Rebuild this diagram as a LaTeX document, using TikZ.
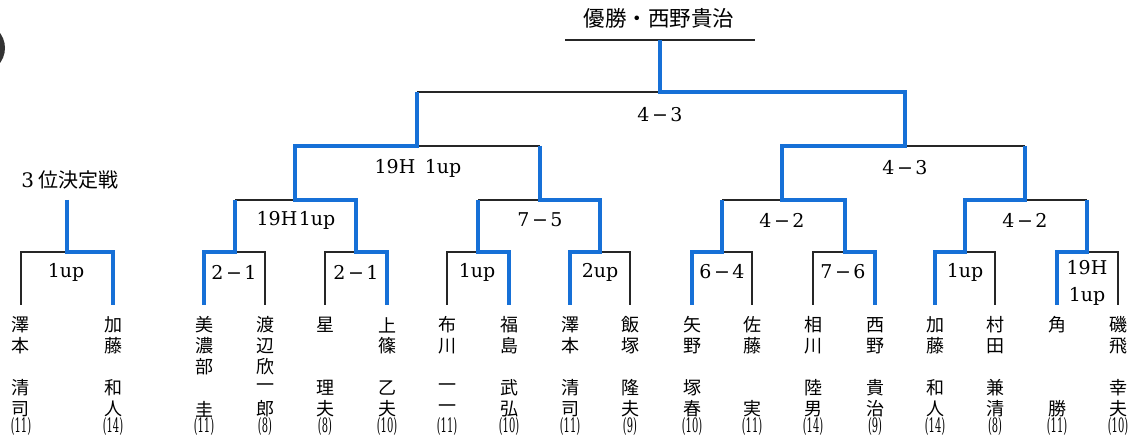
\documentclass[tikz,border=0pt]{standalone}
\usepackage{fontspec}
\newfontfamily\jp{Noto Sans CJK JP}
\newfontfamily\lat{DejaVu Serif}
\definecolor{bl}{RGB}{22,112,215}
\tikzset{
  bk/.style={draw=black!85, line width=1.4pt, line join=miter},
  bu/.style={draw=bl, line width=3.2pt, line join=miter},
  jn/.style={font=\jp\fontsize{20}{20}\selectfont, inner sep=0pt, anchor=center},
  pn/.style={font=\jp\fontsize{18}{18}\selectfont, inner sep=0pt, anchor=center},
  sc/.style={font=\lat\fontsize{19}{20}\selectfont, inner sep=0pt, anchor=center},
  nu/.style={font=\lat\fontsize{18}{18}\selectfont, inner sep=0pt, anchor=center},
}
\newcommand\pl[8]{%
  \node[pn] (#1a) at (#2,325) {#3};
  \node[pn] (#1b) at (#2,346) {#4};
  \node[pn] (#1c) at (#2,367) {#5};
  \node[pn] (#1d) at (#2,388) {#6};
  \node[pn] (#1e) at (#2,409) {#7};
  \node[nu] (#1n) at (#2,426.5) {\scalebox{0.55}[1.1]{(#8)}};
  \coordinate (#1t) at (#2,305);
}
\newcommand\mn{\hspace{2.5pt}−\hspace{2.5pt}}
\begin{document}
\begin{tikzpicture}[x=1pt,y=-1pt]
\useasboundingbox (0,0) rectangle (1131,438);
\fill[white] (0,0) rectangle (1131,438);
\fill[black!80] (-20,48) circle (25);

% title
\node[jn, font=\jp\fontsize{21.5}{21.5}\selectfont] (title) at (659,18) {優勝・西野貴治};
\coordinate (tl) at (565,40); \coordinate (tr) at (755,40); \coordinate (c0) at (660,40);
\draw[bk] (tl) -- (tr);

% junction coordinates
\coordinate (F) at (660,92); \coordinate (FL) at (417,92); \coordinate (FR) at (905,92);
\coordinate (S1) at (417,146); \coordinate (S1L) at (295,146); \coordinate (S1R) at (540,146);
\coordinate (S2) at (905,146); \coordinate (S2L) at (782,146); \coordinate (S2R) at (1025,146);
\coordinate (A) at (295,200); \coordinate (AL) at (235,200); \coordinate (AR) at (356,200);
\coordinate (B) at (540,200); \coordinate (BL) at (478,200); \coordinate (BR) at (600,200);
\coordinate (C) at (782,200); \coordinate (CL) at (722,200); \coordinate (CR) at (845,200);
\coordinate (D) at (1025,200); \coordinate (DL) at (965,200); \coordinate (DR) at (1087,200);
\coordinate (T0) at (67,200); \coordinate (T) at (67,252); \coordinate (TL) at (21,252); \coordinate (TR) at (113,252);
\coordinate (m1) at (235,252); \coordinate (m1L) at (204,252); \coordinate (m1R) at (265,252);
\coordinate (m2) at (356,252); \coordinate (m2L) at (325,252); \coordinate (m2R) at (387,252);
\coordinate (m3) at (478,252); \coordinate (m3L) at (447,252); \coordinate (m3R) at (509,252);
\coordinate (m4) at (600,252); \coordinate (m4L) at (570,252); \coordinate (m4R) at (630,252);
\coordinate (m5) at (722,252); \coordinate (m5L) at (692,252); \coordinate (m5R) at (752,252);
\coordinate (m6) at (845,252); \coordinate (m6L) at (813,252); \coordinate (m6R) at (875,252);
\coordinate (m7) at (965,252); \coordinate (m7L) at (935,252); \coordinate (m7R) at (995,252);
\coordinate (m8) at (1087,252); \coordinate (m8L) at (1057,252); \coordinate (m8R) at (1118,252);

% players
\pl{p01}{21}{澤}{本}{}{清}{司}{11}
\pl{p02}{113}{加}{藤}{}{和}{人}{14}
\pl{p03}{204}{美}{濃}{部}{}{圭}{11}
\pl{p04}{265}{渡}{辺}{欣}{一}{郎}{8}
\pl{p05}{325}{星}{}{}{理}{夫}{8}
\pl{p06}{387}{上}{篠}{}{乙}{夫}{10}
\pl{p07}{447}{布}{川}{}{一}{一}{11}
\pl{p08}{509}{福}{島}{}{武}{弘}{10}
\pl{p09}{570}{澤}{本}{}{清}{司}{11}
\pl{p10}{630}{飯}{塚}{}{隆}{夫}{9}
\pl{p11}{692}{矢}{野}{}{塚}{春}{10}
\pl{p12}{752}{佐}{藤}{}{}{実}{11}
\pl{p13}{813}{相}{川}{}{陸}{男}{14}
\pl{p14}{875}{西}{野}{}{貴}{治}{9}
\pl{p15}{935}{加}{藤}{}{和}{人}{14}
\pl{p16}{995}{村}{田}{}{兼}{清}{8}
\pl{p17}{1057}{角}{}{}{}{勝}{11}
\pl{p18}{1118}{磯}{飛}{}{幸}{夫}{10}

% black lines
\draw[bk] (FL) -- (F);
\draw[bk] (S1) -- (S1R);
\draw[bk] (S2) -- (S2R);
\draw[bk] (A) -- (AL);
\draw[bk] (B) -- (BL);
\draw[bk] (C) -- (CL);
\draw[bk] (D) -- (DR);
\draw[bk] (T) -- (TL) -- (p01t);
\draw[bk] (m1) -- (m1R) -- (p04t);
\draw[bk] (m2) -- (m2L) -- (p05t);
\draw[bk] (m3) -- (m3L) -- (p07t);
\draw[bk] (m4) -- (m4R) -- (p10t);
\draw[bk] (m5) -- (m5R) -- (p12t);
\draw[bk] (m6) -- (m6L) -- (p13t);
\draw[bk] (m7) -- (m7R) -- (p16t);
\draw[bk] (m8) -- (m8R) -- (p18t);

% blue (winner) lines
\draw[bu] (c0) -- (F) -- (FR) -- (S2) -- (S2L) -- (C) -- (CR) -- (m6) -- (m6R) -- (p14t);
\draw[bu] (FL) -- (S1) -- (S1L) -- (A) -- (AR) -- (m2) -- (m2R) -- (p06t);
\draw[bu] (S1R) -- (B) -- (BR) -- (m4) -- (m4L) -- (p09t);
\draw[bu] (BL) -- (m3) -- (m3R) -- (p08t);
\draw[bu] (AL) -- (m1) -- (m1L) -- (p03t);
\draw[bu] (CL) -- (m5) -- (m5L) -- (p11t);
\draw[bu] (S2R) -- (D) -- (DL) -- (m7) -- (m7L) -- (p15t);
\draw[bu] (DR) -- (m8) -- (m8L) -- (p17t);
\draw[bu] (T0) -- (T) -- (TR) -- (p02t);

% score labels
\node[sc] (sF) at (660,115) {4\mn3};
\node[sc] (sS1) at (418,168) {19H\enspace 1up};
\node[sc] (sS2) at (905,168) {4\mn3};
\node[sc] (sA) at (296,220) {19H\hspace{1.5pt}1up};
\node[sc] (sB) at (540,220) {7\mn5};
\node[sc] (sC) at (782,220) {4\mn2};
\node[sc] (sD) at (1025,220) {4\mn2};
\node[sc] (sT) at (66,272) {1up};
\node[sc] (s1) at (234,272) {2\mn1};
\node[sc] (s2) at (356,272) {2\mn1};
\node[sc] (s3) at (477,272) {1up};
\node[sc] (s4) at (600,272) {2up};
\node[sc] (s5) at (722,272) {6\mn4};
\node[sc] (s6) at (843,272) {7\mn6};
\node[sc] (s7) at (965,272) {1up};
\node[sc] (s8a) at (1087,268) {19H};
\node[sc] (s8b) at (1087,296) {1up};
\node[jn] (third) at (70,180) {{\lat 3} 位決定戦};
\end{tikzpicture}
\end{document}
